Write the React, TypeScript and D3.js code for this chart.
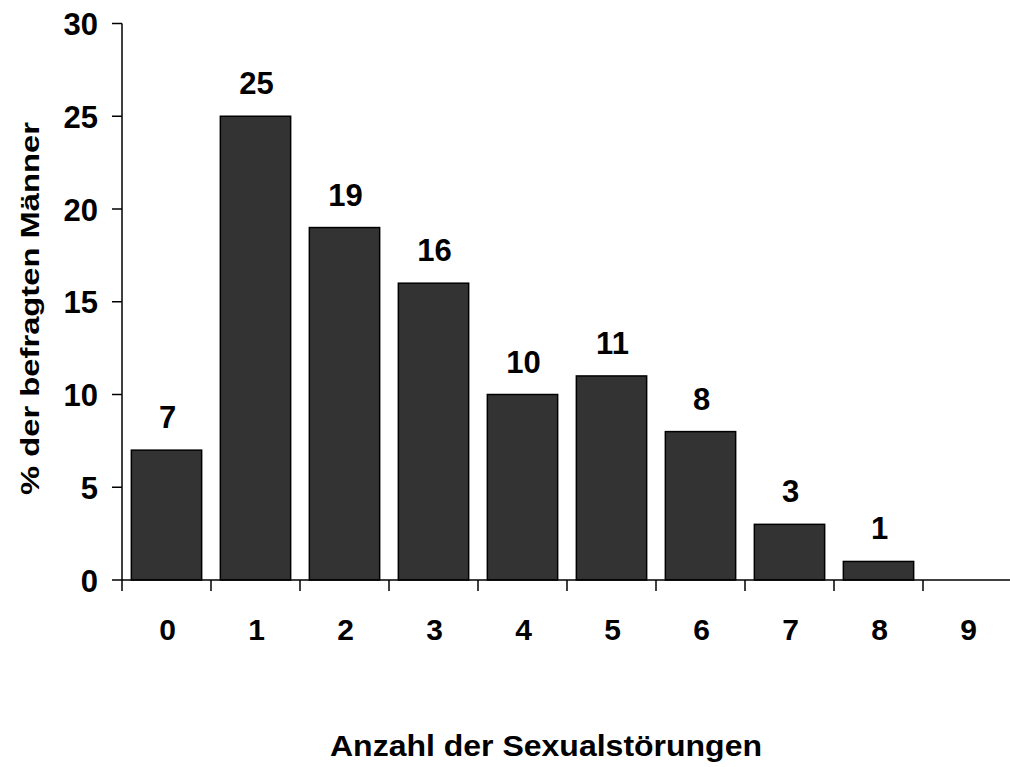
import React from "react";
import * as d3 from "d3";

const categories = ["0", "1", "2", "3", "4", "5", "6", "7", "8", "9"];
const values: (number | null)[] = [7, 25, 19, 16, 10, 11, 8, 3, 1, null];
const yTicks = [0, 5, 10, 15, 20, 25, 30];

const W = 1010;
const H = 767;
const font = "Liberation Sans, Arial, sans-serif";

export default function App() {
  const x = d3.scaleBand<string>().domain(categories).range([122, 1012]).paddingInner(0.21).paddingOuter(0.105);
  const xTickScale = d3.scaleLinear().domain([0, categories.length]).range([122, 1012]);
  const y = d3.scaleLinear().domain([0, 30]).range([580, 23.5]);

  return (
    <svg width={W} height={H} style={{ position: "absolute", left: 0, top: 0, background: "#fff" }}>
      <g fontFamily={font} fontWeight="bold">
        {categories.map((c, i) => {
          const v = values[i];
          if (v == null) return null;
          return (
            <g key={c}>
              <rect x={x(c)!} y={y(v)} width={x.bandwidth()} height={y(0) - y(v)} fill="#333333" stroke="#000" strokeWidth={1.5} />
              <text x={x(c)! + x.bandwidth() / 2 + 1} y={y(v) - 22} textAnchor="middle" fontSize={31} fill="#000">{v}</text>
            </g>
          );
        })}
        {/* y axis */}
        <line x1={122} x2={122} y1={y(30)} y2={591} stroke="#000" strokeWidth={1.5} />
        {yTicks.map(t => (
          <g key={t}>
            <line x1={112} x2={122} y1={y(t)} y2={y(t)} stroke="#000" strokeWidth={1.5} />
            <text x={98} y={y(t) + 11.5} textAnchor="end" fontSize={31} fill="#000">{t}</text>
          </g>
        ))}
        {/* x axis */}
        <line x1={122} x2={1012} y1={580} y2={580} stroke="#000" strokeWidth={1.5} />
        {d3.range(1, categories.length).map(k => (
          <line key={k} x1={xTickScale(k)} x2={xTickScale(k)} y1={580} y2={591} stroke="#000" strokeWidth={1.5} />
        ))}
        {categories.map(c => (
          <text key={c} x={x(c)! + x.bandwidth() / 2 + 1} y={640} textAnchor="middle" fontSize={30} fill="#000">{c}</text>
        ))}
        <text x={546} y={756} textAnchor="middle" fontSize={29.5} textLength={432} lengthAdjust="spacingAndGlyphs" fill="#000">Anzahl der Sexualstörungen</text>
        <text transform={`translate(39,308.5) rotate(-90)`} textAnchor="middle" fontSize={26} textLength={373} lengthAdjust="spacingAndGlyphs" fill="#000">% der befragten Männer</text>
      </g>
    </svg>
  );
}
